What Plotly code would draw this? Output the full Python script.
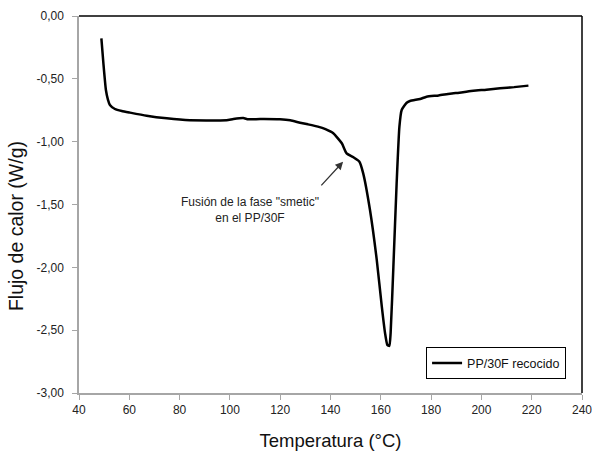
import plotly.graph_objects as go

temp = [48.9, 49.7, 50.7, 51.5, 52.3, 54.3, 57.0, 60.3, 66.9, 74.9, 84.1, 92.0, 98.7,
        101.4, 105.3, 107.3, 112.0, 119.9, 124.0, 127.9, 131.0, 135.0, 138.0, 141.1,
        144.5, 146.4, 149.1, 151.5, 153.0, 155.7, 158.4, 160.4, 161.7, 162.6, 163.4,
        163.9, 165.0, 166.3, 167.4, 168.3, 170.3, 171.6, 175.6, 178.2, 183.0, 187.5,
        192.0, 196.8, 202.0, 207.4, 213.0, 218.7]
heat = [-0.178, -0.377, -0.589, -0.665, -0.708, -0.740, -0.756, -0.769, -0.793, -0.814,
        -0.830, -0.831, -0.830, -0.820, -0.812, -0.822, -0.820, -0.822, -0.830, -0.849,
        -0.862, -0.880, -0.900, -0.933, -1.013, -1.093, -1.124, -1.159, -1.252, -1.544,
        -1.942, -2.313, -2.525, -2.618, -2.626, -2.525, -1.995, -1.331, -0.881, -0.748,
        -0.690, -0.676, -0.660, -0.642, -0.632, -0.618, -0.608, -0.594, -0.586, -0.575,
        -0.566, -0.554]

x_ticks = [40, 60, 80, 100, 120, 140, 160, 180, 200, 220, 240]
y_ticks = [0.0, -0.5, -1.0, -1.5, -2.0, -2.5, -3.0]
y_labels = ["0,00", "-0,50", "-1,00", "-1,50", "-2,00", "-2,50", "-3,00"]

series_name = "PP/30F recocido"
note_text = 'Fusión de la fase "smetic"<br>en el PP/30F'
note_xy = (108, -1.54)
arrow_tip = (145.0, -1.16)
arrow_tail = (135.8, -1.36)

FONT = "Liberation Sans, Arial, sans-serif"
GRAY = "#a6a6a6"

fig = go.Figure()
fig.add_trace(go.Scatter(
    x=temp, y=heat, mode="lines", name=series_name,
    line=dict(color="black", width=2.5, shape="spline", smoothing=0.5),
))

fig.update_layout(
    width=592, height=455,
    margin=dict(l=79, r=10, t=16, b=62, autoexpand=False),
    paper_bgcolor="white", plot_bgcolor="white",
    font=dict(family=FONT, color="#222", size=12),
    showlegend=True,
    legend=dict(
        x=0.69, y=0.121, xanchor="left", yanchor="top",
        bgcolor="white", bordercolor="black", borderwidth=1,
        font=dict(family=FONT, size=12.5, color="#111"),
        itemwidth=30, tracegroupgap=0,
    ),
    xaxis=dict(
        range=[40, 240], tickvals=x_ticks, ticks="outside", ticklen=5,
        tickcolor=GRAY, showline=True, linecolor=GRAY, linewidth=1.5,
        showgrid=False, zeroline=False, ticklabeloverflow="allow",
        automargin=False,
        tickfont=dict(family=FONT, size=12, color="#222"),
        title=dict(text="Temperatura (°C)", standoff=18,
                   font=dict(family=FONT, size=18.5, color="#111")),
    ),
    yaxis=dict(
        range=[-3.0, 0.0], tickvals=y_ticks, ticktext=y_labels, ticks="outside",
        ticklen=5, tickcolor=GRAY, showline=True, linecolor=GRAY, linewidth=1.5,
        showgrid=False, zeroline=False, ticklabelstandoff=6, automargin=False,
        tickfont=dict(family=FONT, size=12, color="#222"),
    ),
)

# y-axis title
fig.add_annotation(xref="paper", yref="paper", x=-0.125, y=0.443,
                   text="Flujo de calor (W/g)", textangle=-90, showarrow=False,
                   xanchor="center", yanchor="middle",
                   font=dict(family=FONT, size=19.5, color="#111"))

# top and right frame lines (black)
fig.add_shape(type="line", xref="paper", yref="paper", x0=0, x1=1, y0=1, y1=1,
              line=dict(color="black", width=1.5))
fig.add_shape(type="line", xref="paper", yref="paper", x0=1, x1=1, y0=0, y1=1,
              line=dict(color="black", width=1.5))

fig.add_annotation(x=note_xy[0], y=note_xy[1], xref="x", yref="y", text=note_text,
                   showarrow=False, font=dict(family=FONT, size=12, color="#222"),
                   align="center")
fig.add_annotation(x=arrow_tip[0], y=arrow_tip[1], ax=arrow_tail[0], ay=arrow_tail[1],
                   xref="x", yref="y", axref="x", ayref="y", text="",
                   showarrow=True, arrowhead=2, arrowsize=1.2, arrowwidth=1.3,
                   arrowcolor="#333")

fig.write_html("out.html")
